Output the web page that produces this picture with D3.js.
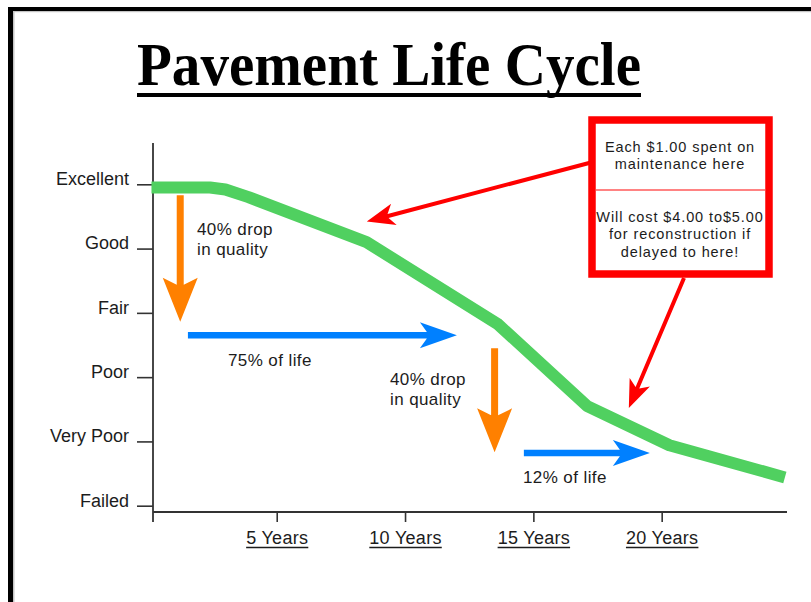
<!DOCTYPE html>
<html>
<head>
<meta charset="utf-8">
<script src="https://cdn.jsdelivr.net/npm/d3@7"></script>
<style>
body { margin: 0; background: #fff; }
svg { display: block; }
.lbl { font-family: "Liberation Sans", Arial, sans-serif; fill: #1c1c1c; }
</style>
</head>
<body>
<svg id="graph" width="811" height="602"></svg>
<script>
// condition scale (0 = Failed ... 5 = Excellent)
var conditions = ["Failed", "Very Poor", "Poor", "Fair", "Good", "Excellent"]
var yearTicks = [5, 10, 15, 20]
var yearLabels = ["5 Years", "10 Years", "15 Years", "20 Years"]

// the green curve
var lifeYears = [0.12, 2.4, 3.0, 3.9, 8.5, 13.6, 17.1, 20.3, 24.8]
var lifeCondition = [4.95, 4.95, 4.92, 4.8, 4.1, 2.83, 1.55, 0.94, 0.44]

// annotation arrows in chart units
var dropArrows = [{ year: 1.24, from: 4.83, to: 2.86 }, { year: 13.49, from: 2.45, to: 0.83 }]
var lifeArrows = [{ cond: 2.65, from: 1.54, to: 12.02 }, { cond: 0.82, from: 14.63, to: 19.54 }]
var notePoints = [{ year: 8.51, cond: 4.42 }, { year: 18.72, cond: 1.52 }]

var dropText = ["40% drop", "in quality"]
var lifeText = ["75% of life", "12% of life"]
var noteTop = ["Each $1.00 spent on", "maintenance here"]
var noteBottom = ["Will cost $4.00 to$5.00", "for reconstruction if", "delayed to here!"]

var svg = d3.select("#graph")

xScale = d3.scaleLinear().domain([0, 25]).range([148.4, 790])
yScale = d3.scaleLinear().domain([0, 5]).range([505.7, 184.3])

// page frame
svg.append("rect").attr("x", 8).attr("y", 7).attr("width", 5).attr("height", 595).attr("fill", "#000")
svg.append("rect").attr("x", 8).attr("y", 7).attr("width", 803).attr("height", 4).attr("fill", "#000")
svg.append("rect").attr("x", 13).attr("y", 11).attr("width", 1.5).attr("height", 591).attr("fill", "#c4c4c4")
svg.append("rect").attr("x", 13).attr("y", 11).attr("width", 798).attr("height", 1.2).attr("fill", "#c4c4c4")

// title
svg.append("text")
    .attr("x", 137).attr("y", 85)
    .attr("textLength", 504).attr("lengthAdjust", "spacingAndGlyphs")
    .style("font-family", "'Liberation Serif', 'Times New Roman', serif")
    .style("font-weight", "bold").style("font-size", "61px")
    .attr("fill", "#000")
    .text("Pavement Life Cycle")
svg.append("rect").attr("x", 137).attr("y", 93).attr("width", 504).attr("height", 4).attr("fill", "#000")

// axes
var yAxis = svg.append("g")
    .attr("transform", "translate(153,0)")
    .call(d3.axisLeft(yScale).tickValues([0, 1, 2, 3, 4, 5])
        .tickFormat(d => conditions[d]).tickSize(16).tickPadding(8))
yAxis.select(".domain").remove()
yAxis.selectAll("line").attr("stroke", "#333").attr("stroke-width", 1.6)
yAxis.selectAll("text").attr("class", "lbl").attr("dy", "0.02em")
    .style("font-size", "18px").attr("fill", "#1c1c1c").style("font-family", null)

var xAxis = svg.append("g")
    .attr("transform", "translate(0,512)")
    .call(d3.axisBottom(xScale).tickValues(yearTicks)
        .tickFormat((d, i) => yearLabels[i]).tickSize(10))
xAxis.select(".domain").remove()
xAxis.selectAll("line").attr("stroke", "#333").attr("stroke-width", 1.6)
xAxis.selectAll("text").attr("class", "lbl").attr("y", 32).attr("dy", 0)
    .style("font-size", "18px").style("letter-spacing", "0.3px")
    .attr("fill", "#1c1c1c").style("font-family", null)
xAxis.selectAll(".tick").each(function () {
    var t = d3.select(this).select("text")
    var w = t.node().getComputedTextLength()
    d3.select(this).append("line")
        .attr("x1", -w / 2).attr("x2", w / 2)
        .attr("y1", 35.5).attr("y2", 35.5)
        .attr("stroke", "#1c1c1c").attr("stroke-width", 1.6)
})

svg.append("line").attr("x1", 153).attr("x2", 153).attr("y1", 143).attr("y2", 522)
    .attr("stroke", "#333").attr("stroke-width", 1.8)
svg.append("line").attr("x1", 153).attr("x2", 787).attr("y1", 512).attr("y2", 512)
    .attr("stroke", "#333").attr("stroke-width", 1.8)

// block arrow as a polygon
function arrowPath(x1, y1, x2, y2, w, L, h, n) {
    var dx = x2 - x1, dy = y2 - y1
    var len = Math.sqrt(dx * dx + dy * dy)
    var ux = dx / len, uy = dy / len
    var vx = -uy, vy = ux
    var p = [
        [x1 + vx * w / 2, y1 + vy * w / 2],
        [x2 - ux * (L - n) + vx * w / 2, y2 - uy * (L - n) + vy * w / 2],
        [x2 - ux * L + vx * h, y2 - uy * L + vy * h],
        [x2, y2],
        [x2 - ux * L - vx * h, y2 - uy * L - vy * h],
        [x2 - ux * (L - n) - vx * w / 2, y2 - uy * (L - n) - vy * w / 2],
        [x1 - vx * w / 2, y1 - vy * w / 2]
    ]
    return "M" + p.map(d => d.join(",")).join("L") + "Z"
}

// green life curve
var line = d3.line()
    .x(d => xScale(d[0]))
    .y(d => yScale(d[1]))
svg.append("path")
    .datum(lifeYears.map((d, i) => [d, lifeCondition[i]]))
    .attr("d", line)
    .attr("fill", "none")
    .attr("stroke", "#50d060")
    .attr("stroke-width", 12)
    .attr("stroke-linejoin", "round")

// orange drop arrows
svg.selectAll(".drop")
    .data(dropArrows)
    .enter().append("path")
    .attr("class", "drop")
    .attr("fill", "#ff8000")
    .attr("d", d => arrowPath(xScale(d.year), yScale(d.from), xScale(d.year), yScale(d.to), 7, 44, 17.5, 7))

// blue life arrows
svg.selectAll(".life")
    .data(lifeArrows)
    .enter().append("path")
    .attr("class", "life")
    .attr("fill", "#0080ff")
    .attr("d", d => arrowPath(xScale(d.from), yScale(d.cond), xScale(d.to), yScale(d.cond), 6.5, 37, 13, 7))

// annotation text
var dropPos = [[197, 235], [390, 385]]
dropPos.forEach(p => {
    dropText.forEach((t, i) => {
        svg.append("text").attr("class", "lbl")
            .attr("x", p[0]).attr("y", p[1] + i * 20)
            .style("font-size", "17px").style("letter-spacing", "0.4px")
            .text(t)
    })
})
var lifePos = [[228, 366], [523, 483]]
lifeText.forEach((t, i) => {
    svg.append("text").attr("class", "lbl")
        .attr("x", lifePos[i][0]).attr("y", lifePos[i][1])
        .style("font-size", "17px").style("letter-spacing", "0.4px")
        .text(t)
})

// red note box
svg.append("rect")
    .attr("x", 592).attr("y", 120).attr("width", 177).attr("height", 154)
    .attr("fill", "#fff").attr("stroke", "#ff0000").attr("stroke-width", 7.5)
svg.append("line").attr("x1", 596).attr("x2", 765).attr("y1", 190).attr("y2", 190)
    .attr("stroke", "#ff5a5a").attr("stroke-width", 1.4)
noteTop.forEach((t, i) => {
    svg.append("text").attr("class", "lbl")
        .attr("x", 680).attr("y", 151.5 + i * 17.5)
        .attr("text-anchor", "middle")
        .style("font-size", "14.5px").style("letter-spacing", "0.9px")
        .text(t)
})
noteBottom.forEach((t, i) => {
    svg.append("text").attr("class", "lbl")
        .attr("x", 680).attr("y", 221.5 + i * 17.8)
        .attr("text-anchor", "middle")
        .style("font-size", "14.5px").style("letter-spacing", "0.9px")
        .text(t)
})

// red pointer arrows from the note box
var noteStarts = [[590, 162.7], [684, 278]]
svg.selectAll(".note")
    .data(notePoints)
    .enter().append("path")
    .attr("class", "note")
    .attr("fill", "#ff0000")
    .attr("d", (d, i) => arrowPath(noteStarts[i][0], noteStarts[i][1], xScale(d.year), yScale(d.cond), 4, 28, 11, 6))
</script>
</body>
</html>
